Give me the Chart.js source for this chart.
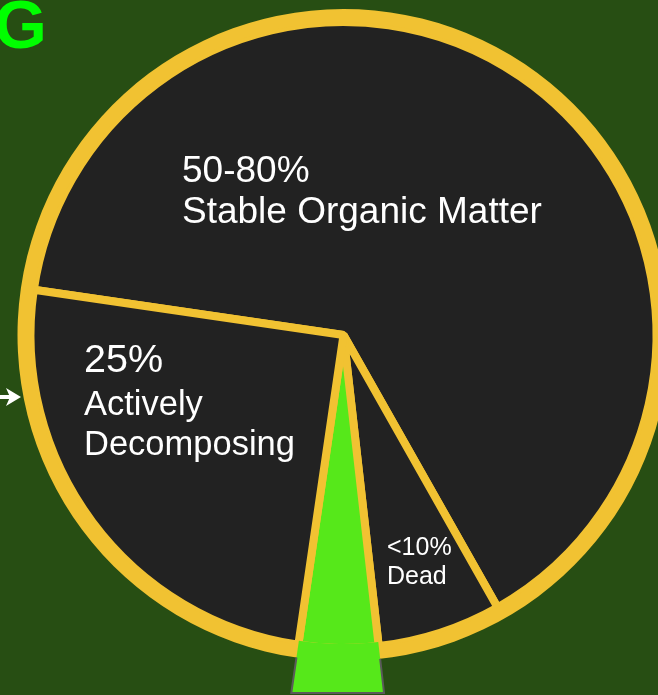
<!DOCTYPE html>
<html>
<head>
<meta charset="utf-8">
<script src="https://cdn.jsdelivr.net/npm/chart.js@4.4.1/dist/chart.umd.min.js"></script>
<style>
  html, body { margin: 0; padding: 0; background: #274e13; overflow: hidden; width: 658px; height: 695px; }
  #wrap { position: absolute; left: 0; top: 0; width: 700px; height: 695px; }
</style>
</head>
<body>
<div id="wrap"><canvas id="soil" width="700" height="695"></canvas></div>
<script>
// Soil organic matter fractions, clockwise from the upper-left edge
const categories = ['Stable Organic Matter', 'Dead', 'Living', 'Actively Decomposing'];
const shares = [64.5, 6.4, 4.1, 25];
const sliceColors = ['#222222', '#222222', '#56e81a', '#222222'];

// Text blocks written inside the slices
const stableLabel = ['50-80%', 'Stable Organic Matter'];
const activeLabel = ['25%', 'Actively', 'Decomposing'];
const deadLabel = ['<10%', 'Dead'];
const cornerLetter = 'G';

const YELLOW = '#f1c232';
const LIVING_GREEN = '#56e81a';
const EDGE = 8;
const FONT = 'px "Liberation Sans", Arial, sans-serif';

// Green wedge that runs out past the rim to the bottom of the page,
// plus the text, the corner letter and the small arrow on the left.
const extras = {
  id: 'extras',
  afterDatasetsDraw(chart) {
    const ctx = chart.ctx;
    const arc = chart.getDatasetMeta(1).data[2];
    const rim = chart.getDatasetMeta(0).data[0];
    const { x, y, startAngle, endAngle, outerRadius } =
      arc.getProps(['x', 'y', 'startAngle', 'endAngle', 'outerRadius'], true);
    const rimR = rim.getProps(['outerRadius'], true).outerRadius;
    const bottom = chart.height - 2;
    const ray = a => {
      const t = (bottom - y) / Math.sin(a);
      return [x + t * Math.cos(a), bottom];
    };
    const p1 = ray(startAngle), p2 = ray(endAngle);
    const wedge = () => {
      ctx.beginPath();
      ctx.moveTo(x, y);
      ctx.lineTo(p1[0], p1[1]);
      ctx.lineTo(p2[0], p2[1]);
      ctx.closePath();
    };

    ctx.save();
    ctx.beginPath();
    ctx.rect(0, 0, chart.width, chart.height);
    ctx.arc(x, y, outerRadius - EDGE / 2, 0, Math.PI * 2);
    ctx.clip('evenodd');
    wedge();
    ctx.fillStyle = LIVING_GREEN;
    ctx.fill();
    ctx.restore();

    ctx.save();
    ctx.beginPath();
    ctx.rect(0, 0, chart.width, chart.height);
    ctx.arc(x, y, rimR, 0, Math.PI * 2);
    ctx.clip('evenodd');
    wedge();
    ctx.strokeStyle = '#5a5a5a';
    ctx.lineWidth = 2;
    ctx.lineJoin = 'miter';
    ctx.stroke();
    ctx.restore();
  },
  afterDraw(chart) {
    const ctx = chart.ctx;
    ctx.save();
    ctx.fillStyle = '#ffffff';
    ctx.textAlign = 'left';
    ctx.textBaseline = 'alphabetic';
    const line = (t, size, x, y) => {
      ctx.font = size + FONT;
      ctx.fillText(t, x, y);
    };
    line(stableLabel[0], 37, 182, 182);
    line(stableLabel[1], 37, 182, 223);
    line(activeLabel[0], 39.5, 84, 372);
    line(activeLabel[1], 34.5, 84, 415);
    line(activeLabel[2], 34.5, 84, 455);
    line(deadLabel[0], 25, 387, 555);
    line(deadLabel[1], 25, 387, 584);

    // corner letter
    ctx.fillStyle = '#00ff00';
    ctx.font = 'bold 68' + FONT;
    ctx.fillText(cornerLetter, -6, 48);

    // arrow pointing at the rim
    ctx.fillStyle = '#ffffff';
    ctx.fillRect(0, 395, 10, 4);
    ctx.beginPath();
    ctx.moveTo(6, 388);
    ctx.lineTo(21, 397);
    ctx.lineTo(6, 406);
    ctx.lineTo(10, 397);
    ctx.closePath();
    ctx.fill();
    ctx.restore();
  }
};

new Chart(document.getElementById('soil'), {
  type: 'pie',
  data: {
    labels: categories,
    datasets: [
      {
        // yellow rim
        data: [100],
        backgroundColor: [YELLOW],
        borderWidth: 0,
        weight: 13
      },
      {
        data: shares,
        backgroundColor: sliceColors,
        borderColor: YELLOW,
        borderWidth: EDGE,
        weight: 313
      }
    ]
  },
  options: {
    responsive: false,
    devicePixelRatio: 1,
    animation: false,
    events: [],
    rotation: 278.3,
    layout: { padding: { left: 17.5, top: 9, right: 30.5, bottom: 34 } },
    plugins: {
      legend: { display: false },
      tooltip: { enabled: false },
      title: { display: false }
    }
  },
  plugins: [extras]
});
</script>
</body>
</html>
